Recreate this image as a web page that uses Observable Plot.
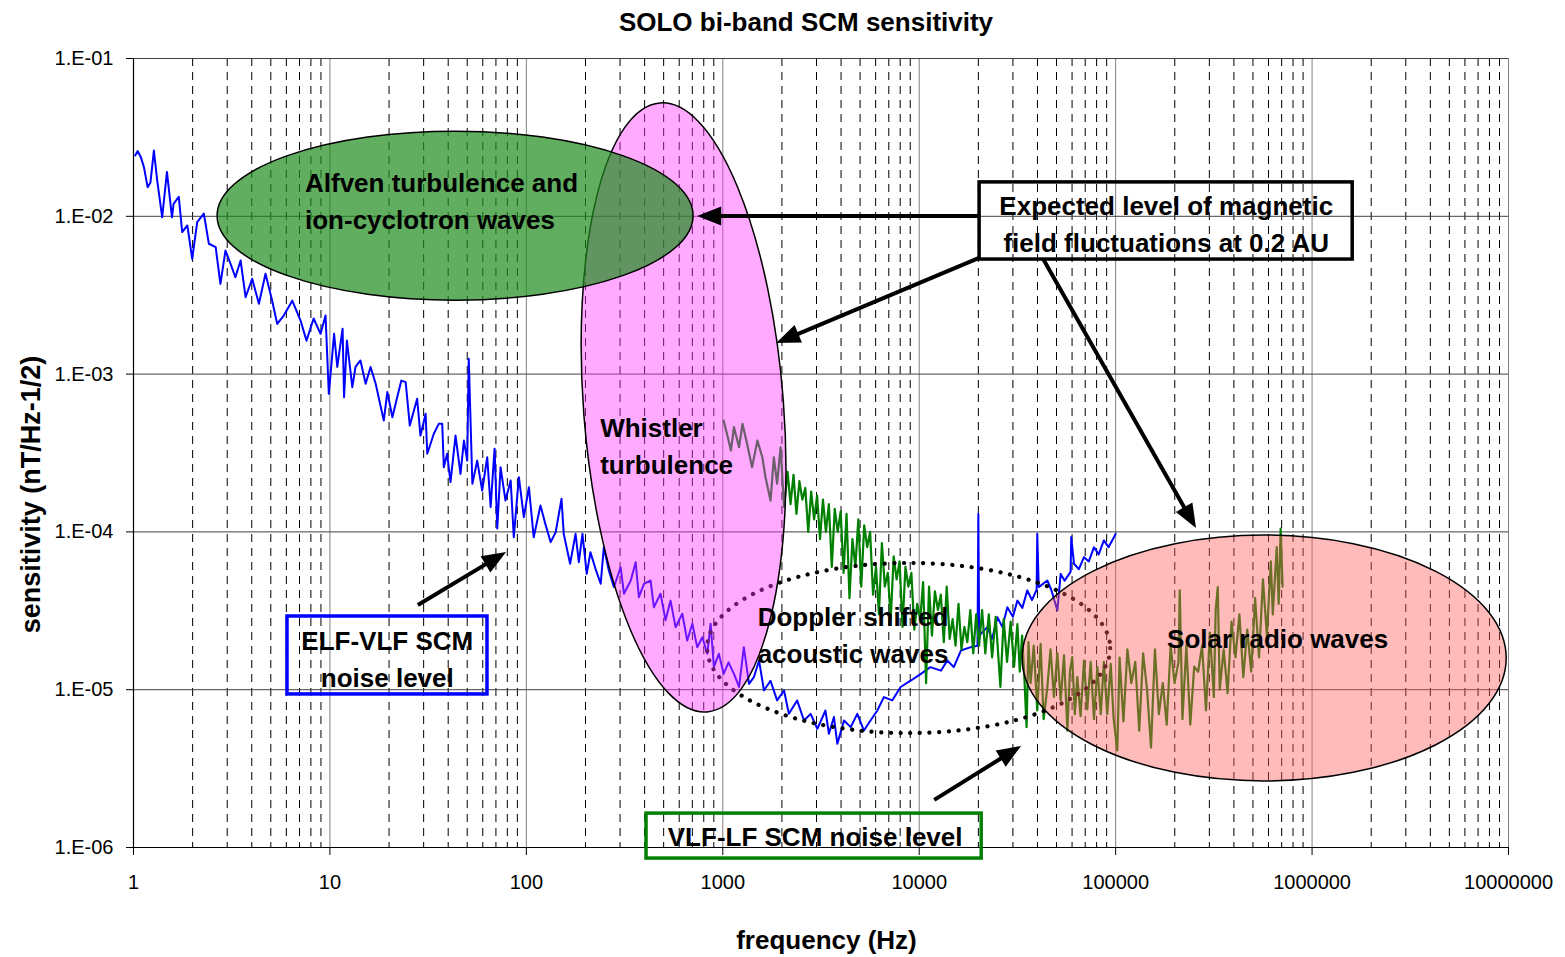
<!DOCTYPE html>
<html><head><meta charset="utf-8">
<script src="https://cdn.jsdelivr.net/npm/d3@7"></script>
<script src="https://cdn.jsdelivr.net/npm/@observablehq/plot@0.6"></script>
<style>
body{margin:0;background:#fff;font-family:"Liberation Sans",Arial,sans-serif;}
#title{height:45px;line-height:45px;font-size:26px;font-weight:bold;text-align:center;width:1565px;padding-left:47px;box-sizing:border-box;color:#000;}
#chart svg{display:block;}
</style></head><body>
<div id="title">SOLO bi-band SCM sensitivity</div>
<div id="chart"></div>
<script>
// ---- tick values and labels ----
const xTicks = [1, 10, 100, 1000, 10000, 100000, 1000000, 10000000];
const xTickLabels = ["1", "10", "100", "1000", "10000", "100000", "1000000", "10000000"];
const yTicks = [1e-6, 1e-5, 1e-4, 1e-3, 1e-2, 1e-1];
const yTickLabels = ["1.E-06", "1.E-05", "1.E-04", "1.E-03", "1.E-02", "1.E-01"];

// ---- ELF-VLF SCM noise level (blue) ----
const blueFreq = [1.02,1.05,1.09,1.13,1.18,1.22,1.27,1.32,1.40,1.48,1.57,1.60,1.70,1.77,1.88,1.99,2.11,2.28,2.42,2.62,2.77,2.94,3.12,3.30,3.51,3.72,4.02,4.35,4.70,5.08,5.39,5.82,6.43,7.08,7.60,8.26,8.96,9.50,9.87,10.5,10.9,11.6,11.8,12.2,13.0,13.5,14.3,15.2,16.1,17.1,17.7,18.8,19.6,20.8,22.0,23.1,24.3,25.5,27.8,28.9,30.7,31.3,33.8,35.8,37.3,38.0,39.5,41.1,43.6,46.2,48.1,50.0,50.9,53.1,56.2,59.6,63.2,65.8,68.9,71.1,73.9,78.3,83.2,86.3,91.6,97.1,103,109,118,125,133,141,151,155,167,178,185,193,203,212,225,239,248,263,279,302,314,340,360,374,397,429,446,482,511,542,575,622,659,700,741,787,834,867,901,955,1010,1070,1140,1210,1280,1360,1440,1530,1620,1750,1890,2050,2170,2390,2590,2800,3030,3330,3470,3680,3830,4140,4480,4840,5230,5650,6120,6610,7290,8040,9040,10200,11400,12900,13900,15000,16300,18300,19800,20000,20200,22200,23500,25000,26500,28100,30000,31600,33500,35500,37500,39600,39900,40600,44900,47000,50500,52500,55000,59000,59400,61400,65000,69000,73000,77600,82000,87100,92000,98000,100000];
const blueSens = [2.43e-2,2.59e-2,2.37e-2,2.05e-2,1.53e-2,1.64e-2,2.61e-2,1.69e-2,9.86e-3,1.91e-2,9.86e-3,1.20e-2,1.33e-2,7.94e-3,8.75e-3,5.38e-3,9.18e-3,1.04e-2,6.70e-3,6.37e-3,3.73e-3,6.07e-3,5.00e-3,4.11e-3,5.25e-3,3.07e-3,4.02e-3,2.79e-3,4.33e-3,2.92e-3,2.08e-3,2.35e-3,2.92e-3,2.19e-3,1.63e-3,2.25e-3,1.80e-3,2.35e-3,7.50e-4,1.80e-3,1.11e-3,1.94e-3,7.14e-4,1.63e-3,8.26e-4,1.11e-3,1.22e-3,8.69e-4,1.11e-3,8.69e-4,7.14e-4,5.08e-4,7.69e-4,5.33e-4,7.14e-4,9.10e-4,8.89e-4,4.72e-4,6.97e-4,4.08e-4,5.60e-4,3.13e-4,4.19e-4,4.84e-4,4.84e-4,2.57e-4,3.13e-4,2.07e-4,4.08e-4,2.33e-4,3.79e-4,2.83e-4,1.25e-3,2.02e-4,2.83e-4,1.83e-4,2.97e-4,1.44e-4,3.37e-4,1.05e-4,2.57e-4,1.58e-4,2.12e-4,9.25e-5,2.22e-4,1.24e-4,1.92e-4,9.25e-5,1.47e-4,1.12e-4,8.61e-5,9.95e-5,1.62e-4,9.72e-5,6.28e-5,9.72e-5,6.43e-5,9.72e-5,5.42e-5,7.43e-5,5.83e-5,4.69e-5,8.00e-5,5.69e-5,4.47e-5,5.97e-5,4.06e-5,4.92e-5,6.43e-5,3.86e-5,4.69e-5,4.92e-5,3.33e-5,4.06e-5,2.75e-5,3.67e-5,2.49e-5,3.03e-5,2.05e-5,2.62e-5,1.86e-5,2.15e-5,1.69e-5,2.62e-5,1.39e-5,1.69e-5,1.26e-5,1.49e-5,1.26e-5,1.04e-5,1.86e-5,1.09e-5,1.20e-5,1.53e-5,9.89e-6,1.14e-5,8.55e-6,9.89e-6,7.03e-6,8.55e-6,6.38e-6,7.03e-6,5.65e-6,7.38e-6,5.26e-6,6.71e-6,4.54e-6,6.38e-6,5.79e-6,7.03e-6,5.51e-6,6.38e-6,7.38e-6,8.97e-6,8.55e-6,1.04e-5,1.14e-5,1.26e-5,1.39e-5,1.32e-5,1.53e-5,1.39e-5,1.77e-5,1.86e-5,1.9e-5,1.30e-4,2.2e-5,2.49e-5,2.1e-5,2.88e-5,2.5e-5,3.33e-5,2.9e-5,3.67e-5,3.3e-5,4.26e-5,3.7e-5,4.3e-5,9.72e-5,4.47e-5,4.92e-5,4.3e-5,3.18e-5,5.42e-5,4.9e-5,5.6e-5,9.27e-5,6.28e-5,5.8e-5,6.92e-5,6.5e-5,8.00e-5,7.2e-5,8.83e-5,8.0e-5,9.25e-5,9.72e-5];

// ---- VLF-LF SCM noise level (green) ----
const greenFreq = [1010,1070,1100,1140,1210,1260,1330,1410,1500,1590,1650,1750,1820,1890,1970,2050,2138,2213,2291,2371,2455,2541,2630,2723,2818,2917,3020,3126,3236,3350,3467,3589,3715,3846,3981,4121,4266,4416,4571,4732,4898,5070,5248,5433,5623,5821,6026,6237,6457,6683,6918,7161,7413,7674,7943,8222,8511,8810,9120,9441,9772,10120,10470,10840,11220,11610,12020,12450,12880,13340,13800,14290,14790,15310,15850,16410,16980,17580,18200,18840,19500,20180,20900,21700,22600,23500,24500,25900,26900,28000,29200,30400,31600,32500,33400,34300,35200,36000,36900,38300,39900,41500,43000,44900,46600,48500,50500,52500,54600,56800,58500,60100,62000,63800,66300,69000,71700,74600,77600,80700,84000,87100,90600,94400,97700,102000,104700,109600,114800,120200,125900,131800,138000,144500,151400,158500,166000,173800,182000,190500,199500,208900,212000,218800,229100,239900,251200,263000,275400,288400,302000,316200,323000,331100,338800,354800,371500,389000,407400,426600,446700,467700,489800,512900,537000,562300,588800,616600,631000,660700,676100,691800,707900];
const greenSens = [5.08e-4,3.79e-4,3.28e-4,4.61e-4,3.44e-4,4.84e-4,3.61e-4,2.57e-4,3.79e-4,2.97e-4,2.22e-4,1.58e-4,2.97e-4,2.02e-4,3.44e-4,1.44e-4,2.4e-4,1.5e-4,2.3e-4,1.3e-4,2.1e-4,1.6e-4,1.9e-4,1.0e-4,1.8e-4,1.2e-4,1.7e-4,9.0e-5,1.6e-4,1.0e-4,1.5e-4,6.0e-5,1.4e-4,1.0e-4,1.35e-4,5.5e-5,1.3e-4,3.8e-5,9.0e-5,6.0e-5,1.2e-4,4.5e-5,1.1e-4,8.0e-5,1.0e-4,4.0e-5,6.0e-5,3.0e-5,8.5e-5,4.5e-5,5.5e-5,2.8e-5,7.0e-5,5.0e-5,6.5e-5,2.5e-5,6.0e-5,4.5e-5,5.5e-5,2.4e-5,3.5e-5,2.8e-5,4.8e-5,1.1e-5,4.5e-5,2.2e-5,4.2e-5,3.2e-5,4.0e-5,2.0e-5,4.5e-5,2.1e-5,2.8e-5,1.9e-5,3.5e-5,1.8e-5,2.5e-5,2.0e-5,3.2e-5,1.7e-5,3.0e-5,1.9e-5,3.2e-5,1.7e-5,3.0e-5,1.6e-5,2.9e-5,1.04e-5,2.8e-5,1.5e-5,2.7e-5,1.4e-5,2.6e-5,1.3e-5,2.2e-5,1.2e-5,5.79e-6,2.0e-5,1.1e-5,1.9e-5,7.38e-6,1.95e-5,6.5e-6,1.04e-5,1.8e-5,9e-6,1.7e-5,8.55e-6,1.65e-5,5.51e-6,1.3e-5,1.61e-5,7e-6,1.2e-5,6.8e-6,1.53e-5,7.5e-6,1.5e-5,6.5e-6,1.39e-5,7e-6,1.5e-5,7e-6,1.46e-5,6.5e-6,4.12e-6,1.6e-5,6.3e-6,1.8e-5,1.1e-5,1.5e-5,5.5e-6,1.7e-5,1.0e-5,4.3e-6,1.8e-5,7.0e-6,1.1e-5,6.0e-6,1.9e-5,1.1e-5,1.5e-5,4.26e-5,6.5e-6,1.9e-5,6.0e-6,1.4e-5,1.3e-5,1.9e-5,7.4e-6,2.3e-5,9.0e-6,3.18e-5,4.47e-5,1.0e-5,1.8e-5,9.5e-6,2.7e-5,1.6e-5,3.0e-5,1.2e-5,2.4e-5,1.3e-5,3.8e-5,1.6e-5,5.0e-5,2.2e-5,6.5e-5,3.0e-5,8.0e-5,3.5e-5,1.05e-4,4.5e-5];

// ---- annotation anchors (data coordinates: Hz, nT/Hz^-1/2) ----
const alfvenEllipse = {fMin: 2.68, fMax: 710, sMin: 2.92e-3, sMax: 3.44e-2};
const whistlerEllipse = {topF: 482, topS: 5.19e-2, botF: 837, botS: 7.18e-6, halfWidthDecades: 0.509};
const dopplerEllipse = {fMin: 837, fMax: 94400, sMin: 5.27e-6, sMax: 6.31e-5};
const solarEllipse = {fMin: 33600, fMax: 9.79e6, sMin: 2.62e-6, sMax: 9.48e-5};

const textBlocks = [
  {lines: ["Alfven turbulence and", "ion-cyclotron waves"], f: 7.51, s: 1.23e-2, anchor: "start"},
  {lines: ["Whistler", "turbulence"], f: 239, s: 3.45e-4, anchor: "start"},
  {lines: ["Expected level of magnetic", "field fluctuations at 0.2 AU"], f: 182000, s: 8.81e-3, anchor: "middle"},
  {lines: ["Doppler shifted", "acoustic waves"], f: 4630, s: 2.19e-5, anchor: "middle"},
  {lines: ["Solar radio waves"], f: 672000, s: 2.08e-5, anchor: "middle"},
  {lines: ["ELF-VLF SCM", "noise level"], f: 19.7, s: 1.55e-5, anchor: "middle"},
  {lines: ["VLF-LF SCM noise level"], f: 2970, s: 1.16e-6, anchor: "middle"}
];
const boxes = [
  {f1: 20300, f2: 1.61e6, s1: 1.64e-2, s2: 5.32e-3, color: "#000000"},
  {f1: 6.08, f2: 63.4, s1: 2.91e-5, s2: 9.33e-6, color: "#0000ff"},
  {f1: 409, f2: 20800, s1: 1.64e-6, s2: 8.51e-7, color: "#008000"}
];
const arrows = [
  {f1: 20300, s1: 9.97e-3, f2: 745, s2: 9.97e-3},
  {f1: 20300, s1: 5.41e-3, f2: 1880, s2: 1.56e-3},
  {f1: 43000, s1: 5.32e-3, f2: 258000, s2: 1.05e-4},
  {f1: 28.2, s1: 3.42e-5, f2: 79.3, s2: 7.40e-5},
  {f1: 12000, s1: 1.99e-6, f2: 33200, s2: 4.37e-6}
];

const blue = blueFreq.map((f, i) => ({f, s: blueSens[i]}));
const green = greenFreq.map((f, i) => ({f, s: greenSens[i]}));
const minorTicks = [];
for (const d of xTicks.slice(0, -1)) for (let k = 2; k <= 9; k++) minorTicks.push(k * d);
const xLab = new Map(xTicks.map((t, i) => [t, xTickLabels[i]]));
const yLab = new Map(yTicks.map((t, i) => [t, yTickLabels[i]]));

const W = 1565, H = 912;
const plot = Plot.plot({
  width: W, height: H,
  marginTop: 13, marginBottom: 110, marginLeft: 133, marginRight: 57,
  x: {type: "log", domain: [1, 1e7]},
  y: {type: "log", domain: [1e-6, 1e-1]},
  style: {fontFamily: "'Liberation Sans', Arial, sans-serif", fontSize: "20px", color: "#000", background: "#fff", overflow: "visible"},
  marks: [
    Plot.ruleX(minorTicks, {stroke: "#000", strokeDasharray: "8,6", strokeWidth: 1}),
    Plot.ruleX(xTicks, {stroke: "#808080", strokeWidth: 1}),
    Plot.ruleY(yTicks, {stroke: "#404040", strokeWidth: 1}),
    Plot.line(blue, {x: "f", y: "s", stroke: "#0000ff", strokeWidth: 2, strokeLinejoin: "round"}),
    Plot.line(green, {x: "f", y: "s", stroke: "#008000", strokeWidth: 2.2, strokeLinejoin: "round"}),
    Plot.axisX({ticks: xTicks, tickFormat: d => xLab.get(d), tickSize: 8, tickPadding: 19, label: null, fontSize: 20}),
    Plot.axisY({ticks: yTicks, tickFormat: d => yLab.get(d), tickSize: 7, tickPadding: 13, label: null, fontSize: 20}),
    Plot.ruleX([1], {stroke: "#000", strokeWidth: 1.2}),
    Plot.ruleY([1e-6], {stroke: "#000", strokeWidth: 1.2})
  ]
});
document.getElementById("chart").appendChild(plot);

const sx = plot.scale("x"), sy = plot.scale("y");
const X = v => sx.apply(v), Y = v => sy.apply(v);
const svg = d3.select(plot);
const g = svg.append("g").attr("font-family", "'Liberation Sans', Arial, sans-serif");

function boundsEllipse(e) {
  return g.append("ellipse")
    .attr("cx", (X(e.fMin) + X(e.fMax)) / 2).attr("cy", (Y(e.sMin) + Y(e.sMax)) / 2)
    .attr("rx", (X(e.fMax) - X(e.fMin)) / 2).attr("ry", (Y(e.sMin) - Y(e.sMax)) / 2);
}
// Doppler (dotted)
boundsEllipse(dopplerEllipse).attr("fill", "none").attr("stroke", "#000")
  .attr("stroke-width", 4.2).attr("stroke-dasharray", "0.1,9.6").attr("stroke-linecap", "round");
// Whistler (tilted)
{
  const w = whistlerEllipse;
  const x1 = X(w.topF), y1 = Y(w.topS), x2 = X(w.botF), y2 = Y(w.botS);
  const cx = (x1 + x2) / 2, cy = (y1 + y2) / 2;
  const a = Math.hypot(x2 - x1, y2 - y1) / 2;
  const b = X(w.topF * Math.pow(10, w.halfWidthDecades)) - X(w.topF);
  const ang = -Math.atan2(x2 - x1, y2 - y1) * 180 / Math.PI;
  g.append("ellipse").attr("cx", cx).attr("cy", cy).attr("rx", b).attr("ry", a)
    .attr("transform", `rotate(${ang},${cx},${cy})`)
    .attr("fill", "#ff33ff").attr("fill-opacity", 0.42).attr("stroke", "#000").attr("stroke-width", 1.5);
}
// Alfven
boundsEllipse(alfvenEllipse).attr("fill", "#1e8c1e").attr("fill-opacity", 0.7).attr("stroke", "#000").attr("stroke-width", 1.5);
// Solar radio
boundsEllipse(solarEllipse).attr("fill", "#ff5a5a").attr("fill-opacity", 0.42).attr("stroke", "#000").attr("stroke-width", 1.5);

// boxes
for (const b of boxes) {
  g.append("rect").attr("x", X(b.f1)).attr("y", Y(b.s1))
    .attr("width", X(b.f2) - X(b.f1)).attr("height", Y(b.s2) - Y(b.s1))
    .attr("fill", "none").attr("stroke", b.color).attr("stroke-width", 3.5);
}
// arrows
for (const a of arrows) {
  const x1 = X(a.f1), y1 = Y(a.s1), x2 = X(a.f2), y2 = Y(a.s2);
  const L = Math.hypot(x2 - x1, y2 - y1), ux = (x2 - x1) / L, uy = (y2 - y1) / L;
  const hl = 24, hw = 9.5;
  const bx = x2 - ux * hl, by = y2 - uy * hl;
  g.append("line").attr("x1", x1).attr("y1", y1).attr("x2", bx + ux * 2).attr("y2", by + uy * 2)
    .attr("stroke", "#000").attr("stroke-width", 4);
  g.append("polygon").attr("points", `${x2},${y2} ${bx - uy * hw},${by + ux * hw} ${bx + uy * hw},${by - ux * hw}`)
    .attr("fill", "#000");
}
// text
for (const t of textBlocks) {
  const cx = X(t.f), cy = Y(t.s), n = t.lines.length;
  t.lines.forEach((line, i) => {
    g.append("text").attr("x", cx).attr("y", cy + (i - (n - 1) / 2) * 37).attr("dy", "0.36em")
      .attr("text-anchor", t.anchor).attr("font-size", 26).attr("font-weight", "bold").attr("fill", "#000").text(line);
  });
}
// axis titles
const fx1 = X(1), fx2 = X(1e7), fy1 = Y(1e-1), fy2 = Y(1e-6);
g.append("text").attr("x", (fx1 + fx2) / 2 + 6).attr("y", H - 17).attr("dy", "0.36em")
  .attr("text-anchor", "middle").attr("font-size", 26).attr("font-weight", "bold").text("frequency (Hz)");
g.append("text").attr("transform", `translate(30,${(fy1 + fy2) / 2 + 42}) rotate(-90)`).attr("dy", "0.36em")
  .attr("text-anchor", "middle").attr("font-size", 27).attr("font-weight", "bold").text("sensitivity (nT/Hz-1/2)");
</script>
</body></html>
